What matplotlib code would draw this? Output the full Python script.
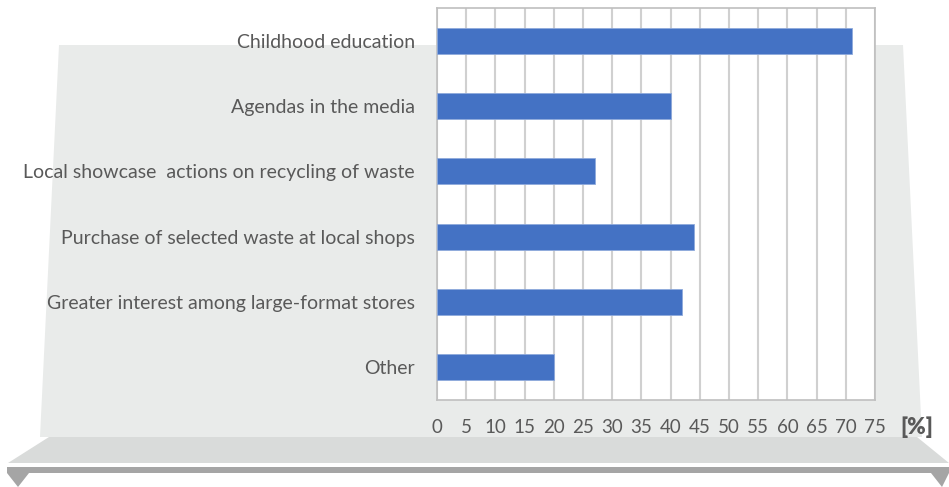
import matplotlib.pyplot as plt
from matplotlib.patches import Polygon

# data
categories = ["Childhood education",
              "Agendas in the media",
              "Local showcase  actions on recycling of waste",
              "Purchase of selected waste at local shops",
              "Greater interest among large-format stores",
              "Other"]
values = [71, 40, 27, 44, 42, 20]
ticks = list(range(0, 80, 5))

W, H = 949, 487
fig = plt.figure(figsize=(W / 100, H / 100), dpi=100)

# decorative background (pixel coordinates)
bg = fig.add_axes([0, 0, 1, 1])
bg.set_xlim(0, W)
bg.set_ylim(H, 0)
bg.axis("off")
bg.add_patch(Polygon([(59, 45), (903, 45), (922, 437), (40, 437)], color="#E9EBEA", lw=0))
bg.add_patch(Polygon([(49, 437), (917, 437), (949, 463), (8, 463)], color="#D9DBDA", lw=0))
bg.add_patch(Polygon([(7, 467), (949, 467), (949, 473), (7, 473)], color="#A5A5A5", lw=0))
bg.add_patch(Polygon([(7, 473), (29, 473), (18, 487)], color="#A5A5A5", lw=0))
bg.add_patch(Polygon([(931, 473), (949, 473), (942, 487)], color="#A5A5A5", lw=0))

# main bar chart
ax = fig.add_axes([437 / W, 1 - 400 / H, (875 - 437) / W, (400 - 8) / H])
ax.set_facecolor("white")
ax.barh(range(len(values)), values, height=0.4, color="#4472C4",
        edgecolor="#8FAADC", linewidth=0.6, zorder=3)
ax.set_xlim(0, 75)
ax.set_ylim(len(values) - 0.5, -0.5)
ax.set_xticks(ticks)
ax.set_yticks(range(len(categories)))
ax.set_yticklabels(categories)
ax.grid(axis="x", color="#D0D0D0", linewidth=1.5, zorder=0)
for s in ax.spines.values():
    s.set_color("#BFBFBF")
    s.set_linewidth(1.2)
ax.tick_params(axis="x", length=0, labelsize=13.5, labelcolor="#595959", pad=14)
ax.tick_params(axis="y", length=0, labelsize=14, labelcolor="#595959", pad=16)
for lab in ax.get_xticklabels() + ax.get_yticklabels():
    lab.set_family("Lato")

fig.text(917 / W, 1 - 427 / H, "[%]", fontsize=16, fontweight="heavy",
         color="#595959", family="Lato", ha="center", va="center")

fig.savefig("out.png", dpi=100)
